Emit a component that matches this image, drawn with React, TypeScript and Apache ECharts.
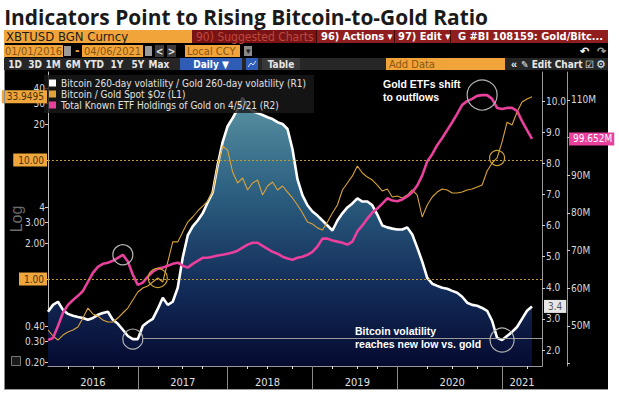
import React, { useEffect, useRef } from "react";
import * as echarts from "echarts";

const W = 619;
const H = 398;

// ---- x axis: sample positions (one category per sample) ----
const yearStarts: [number, number][] = [
  [2016, 0], [2017, 18], [2018, 36], [2019, 53], [2020, 70], [2021, 91],
];
const samplesPerYear2021 = 23;
const categoryCount = 100;
const yearLabels: Record<number, string> = { 9: "2016", 27: "2017", 44: "2018", 62: "2019", 81: "2020", 95: "2021" };
const yearSeparators = [18, 36, 53, 70, 91];
const quarterTicks = [4, 9, 14, 22, 27, 31, 40, 44, 49, 57, 62, 66, 76, 81, 86, 96];

// ---- tick labels ----
const leftTicks = [0.2, 0.3, 0.4, 1, 2, 3, 4, 10, 20, 30, 40];
const leftLabelValues = [0.2, 0.3, 0.4, 2, 3, 4, 20, 30, 40];
const leftLabelText = ["0.20", "0.30", "0.40", "2.00", "3.00", "4", "20", "30", "40"];
const r1Ticks = [2, 3, 4, 5, 6, 7, 8, 9, 10];
const r2Ticks = [40, 50, 60, 70, 80, 90, 100, 110];
const r2Labels = [50, 60, 70, 80, 90, 110];
const refLevels = [10, 1];
const volLowLine = 2.39;

// ---- series ----
const volRatio = [
  3.23, 3.45, 3.55, 3.29, 3.16, 3.10, 3.06, 3.03, 2.97, 3.03, 3.13, 3.19, 3.23, 2.97, 2.84, 2.65, 2.45, 2.35,
  2.35, 2.77, 2.90, 3.00, 3.32, 3.68, 3.45, 3.55, 4.00, 4.97, 5.68, 5.97, 6.16, 6.39, 6.74, 7.06, 7.94, 8.68,
  9.19, 9.45, 9.74, 10.10, 9.81, 9.68, 9.61, 9.55, 9.48, 9.42, 9.32, 9.26, 9.10, 8.45, 7.48, 6.97, 6.65, 6.45,
  6.32, 6.16, 6.00, 5.84, 6.16, 6.39, 6.58, 6.71, 6.87, 6.77, 6.77, 6.65, 6.35, 6.00, 5.94, 5.90, 5.87, 5.87,
  5.94, 5.71, 5.29, 4.84, 4.32, 4.13, 4.06, 4.00, 3.97, 3.90, 3.84, 3.71, 3.52, 3.45, 3.42, 3.35, 3.26, 2.94,
  2.39, 2.32, 2.45, 2.58, 2.74, 3.00, 3.26, 3.40,
];
const btcGold = [
  0.373, 0.332, 0.307, 0.338, 0.359, 0.373, 0.395, 0.470, 0.570, 0.508, 0.489, 0.452, 0.435, 0.435, 0.470, 0.518, 0.570, 0.667,
  0.778, 0.840, 0.873, 0.944, 1.02, 0.944, 1.39, 2.05, 2.05, 2.48, 3.01, 3.32, 3.73, 4.10, 4.52, 5.38, 9.08, 13.1,
  12.1, 7.93, 6.41, 7.06, 5.60, 6.41, 6.79, 5.08, 6.05, 6.53, 5.60, 6.05, 5.38, 4.80, 4.19, 3.59, 3.01, 2.90,
  2.69, 2.58, 3.01, 3.59, 4.19, 5.60, 6.41, 7.35, 8.91, 7.78, 7.19, 6.79, 6.16, 5.48, 5.70, 4.89, 4.98, 4.80,
  5.08, 5.60, 5.08, 3.32, 4.19, 4.89, 5.38, 5.70, 5.60, 5.28, 5.28, 5.38, 5.60, 5.70, 5.93, 6.16, 8.09, 9.44,
  10.4, 14.2, 20.8, 19.7, 25.3, 30.7, 32.6, 33.9495,
];
const etfHoldings = [
  46.3, 46.8, 50.0, 53.5, 55.6, 56.9, 58.0, 59.3, 61.7, 64.1, 65.7, 66.5, 66.8, 67.3, 68.1, 68.9, 67.1, 63.6,
  60.9, 61.5, 63.1, 64.4, 65.2, 65.5, 66.0, 66.5, 66.8, 66.0, 65.5, 66.5, 67.3, 68.1, 68.1, 68.4, 68.7, 68.9,
  69.2, 69.5, 70.0, 70.8, 71.6, 72.1, 72.1, 71.3, 70.5, 69.7, 69.2, 68.4, 67.9, 67.6, 68.1, 68.4, 68.9, 69.7,
  71.1, 73.2, 73.2, 72.7, 72.4, 72.1, 71.6, 72.4, 75.1, 76.7, 78.5, 80.1, 81.2, 82.5, 83.9, 83.3, 83.1, 83.6,
  84.4, 85.5, 87.3, 90.0, 93.7, 95.6, 98.0, 99.9, 102.0, 104.1, 106.3, 108.7, 109.7, 110.3, 111.1, 111.3, 111.3, 110.3,
  107.9, 107.6, 107.9, 107.9, 107.1, 104.4, 102.0, 99.652,
];

const volName = "Bitcoin 260-day volatility / Gold 260-day volatility (R1)";
const ratioName = "Bitcoin / Gold Spot $Oz (L1)";
const etfName = "Total Known ETF Holdings of Gold on 4/5/21 (R2)";

const NARROW = "'Liberation Sans Narrow','Arial Narrow','DejaVu Sans Condensed','Roboto Condensed',sans-serif";
const SANS = "'Liberation Sans',Arial,sans-serif";
const AMBER = "#f0a43a";
const AMBER_TXT = "#8a5612";
const HIDDEN_LINE = { color: "rgba(0,0,0,0)", width: 0 };

function buildCategories(): string[] {
  const out: string[] = [];
  for (let k = 0; k < yearStarts.length; k++) {
    const [yr, s] = yearStarts[k];
    const last = k + 1 < yearStarts.length;
    const next = last ? yearStarts[k + 1][1] : categoryCount;
    const n = last ? next - s : samplesPerYear2021;
    for (let i = s; i < next; i++) {
      const day = Math.round(((i - s) / n) * 365);
      const d = new Date(Date.UTC(yr, 0, 1 + day));
      out.push(d.toISOString().slice(0, 10));
    }
  }
  return out;
}

function measure(text: string, font: string): number {
  const c = document.createElement("canvas").getContext("2d");
  if (!c) return 0;
  c.font = font;
  return c.measureText(text).width;
}

function txt(x: number, y: number, text: string, fill: string, font: string, align = "left", extra: any = {}) {
  return { type: "text", x, y, z: 20, silent: true, style: { text, fill, font, align, verticalAlign: "middle" }, ...extra };
}
function box(x: number, y: number, w: number, h: number, fill: string, extra: any = {}) {
  return { type: "rect", z: 10, silent: true, shape: { x, y, width: w, height: h }, style: { fill }, ...extra };
}

function buildGraphics() {
  const titleText = "Indicators Point to Rising Bitcoin-to-Gold Ratio";
  const titleFont = "bold 22px 'Open Sans'";
  const tw = measure(titleText, titleFont) || 484;
  const titleScale = 484 / tw;
  const g: any[] = [
    { type: "rect", z: -10, silent: true, shape: { x: 4, y: 43, width: 604, height: 347 }, style: { fill: "#000" } },
    { type: "line", z: 10, silent: true, shape: { x1: 4.5, y1: 43, x2: 4.5, y2: 390 }, style: { stroke: "#8a8a8a", lineWidth: 1 } },
    { type: "line", z: 10, silent: true, shape: { x1: 4, y1: 389.5, x2: 608, y2: 389.5 }, style: { stroke: "#9a9a9a", lineWidth: 1 } },
    txt(4, 16, titleText, "#1a1a1a", titleFont, "left", { scaleX: titleScale, originX: 4 }),
    // row 1
    box(4, 30, 188, 13, AMBER),
    txt(6, 36.5, "XBTUSD BGN Curncy", "#1c1c1c", `13px ${NARROW}`),
    box(192, 30, 416, 13, "#901e1e"),
    box(192, 30, 124, 13, "#7a1414"),
    txt(196, 36.5, "90) Suggested Charts", "#c0483f", `12px ${NARROW}`),
    { type: "line", z: 11, silent: true, shape: { x1: 316.5, y1: 30, x2: 316.5, y2: 43 }, style: { stroke: "#3c0808" } },
    { type: "line", z: 11, silent: true, shape: { x1: 394.5, y1: 30, x2: 394.5, y2: 43 }, style: { stroke: "#3c0808" } },
    { type: "line", z: 11, silent: true, shape: { x1: 450.5, y1: 30, x2: 450.5, y2: 43 }, style: { stroke: "#3c0808" } },
    txt(321, 36.5, "96) Actions \u25BE", "#ffffff", `bold 11px ${NARROW}`),
    txt(398, 36.5, "97) Edit \u25BE", "#ffffff", `bold 11px ${NARROW}`),
    txt(458, 36.5, "G #BI 108159: Gold/Bitc...", "#ffffff", `bold 11px ${NARROW}`),
    // row 2
    box(4, 45, 59, 12, AMBER),
    txt(5, 51, "01/01/2016", AMBER_TXT, `11px ${NARROW}`),
    box(64, 46, 7, 10, "#9a9a9a"),
    txt(75, 51, "-", AMBER, `bold 12px ${NARROW}`),
    box(82, 45, 61, 12, AMBER),
    txt(84, 51, "04/06/2021", AMBER_TXT, `11px ${NARROW}`),
    box(145, 46, 7, 10, "#9a9a9a"),
    box(155, 45, 9, 12, "#3a3a3a"),
    txt(159.5, 51, "<", "#e0e0e0", `bold 10px ${NARROW}`, "center"),
    box(167, 45, 9, 12, "#3a3a3a"),
    txt(171.5, 51, ">", "#e0e0e0", `bold 10px ${NARROW}`, "center"),
    box(185, 45, 55, 12, AMBER),
    txt(187, 51, "Local CCY", AMBER_TXT, `11px ${NARROW}`),
    box(244, 46, 8, 10, "#8a8a8a"),
    txt(248, 51, "\u25BE", "#222", `9px ${SANS}`, "center"),
    txt(584, 51, "\u21B6", "#f0f0f0", `bold 11px ${SANS}`, "center"),
    txt(601, 51, "\u21B7", "#9a9a9a", `bold 11px ${SANS}`, "center"),
    // row 3
    box(4, 58, 604, 12, "#262626"),
    ...[["1D", 15], ["3D", 35], ["1M", 53], ["6M", 73], ["YTD", 94], ["1Y", 117], ["5Y", 138], ["Max", 159]].map(([t, x]) =>
      txt(x as number, 64, t as string, "#e6e6e6", `bold 10px ${NARROW}`, "center")),
    box(180, 58, 62, 12, "#2f5cb6"),
    txt(211, 64, "Daily \u25BC", "#ffffff", `bold 10px ${NARROW}`, "center"),
    box(246, 58, 12, 12, "#2f5cb6"),
    { type: "polyline", z: 21, silent: true, shape: { points: [[248, 67], [251, 63], [253, 65], [256, 61]] }, style: { stroke: "#dfe8ff", fill: null, lineWidth: 1 } },
    box(262, 58, 38, 12, "#383838"),
    txt(281, 64, "Table", "#e6e6e6", `bold 10px ${NARROW}`, "center"),
    box(386, 58, 119, 12, AMBER),
    txt(389, 64, "Add Data", AMBER_TXT, `11px ${NARROW}`),
    txt(514, 64, "\u00AB", "#e6e6e6", `bold 11px ${SANS}`, "center"),
    txt(521, 64, "\u270E Edit Chart", "#e6e6e6", `bold 10px ${NARROW}`),
    txt(589, 64, "\u2611", "#e6e6e6", `10px ${SANS}`, "center"),
    txt(601, 64, "\u2699", "#e6e6e6", `11px ${SANS}`, "center"),
    // small icon bottom-left
    { type: "rect", z: 10, silent: true, shape: { x: 11.5, y: 356.5, width: 9, height: 9 }, style: { fill: "#1a1a1a", stroke: "#777", lineWidth: 1 } },
    // annotations
    { type: "text", x: 383, y: 77, z: 30, silent: true, style: { text: "Gold ETFs shift\nto outflows", fill: "#ffffff", font: `bold 10.5px ${SANS}`, lineHeight: 13 } },
    { type: "text", x: 355, y: 324, z: 30, silent: true, style: { text: "Bitcoin volatility\nreaches new low vs. gold", fill: "#ffffff", font: `bold 10.5px ${SANS}`, lineHeight: 13 } },
  ];
  return g;
}

function buildOption(): any {
  const categories = buildCategories();
  const sepSet = new Set(yearSeparators);
  const qSet = new Set(quarterTicks);
  const last = volRatio.length - 1;
  const axisLabelStyle = { color: "#d8d8d8", fontSize: 10, fontFamily: NARROW };
  const ring = (color: string) => ({ color: "rgba(0,0,0,0)", borderColor: color, borderWidth: 1.2 });

  return {
    animation: false,
    backgroundColor: "transparent",
    textStyle: { fontFamily: NARROW },
    grid: { left: 43, top: 72, width: 499, height: 294, show: false },
    legend: {
      left: 44, top: 75, orient: "vertical", icon: "rect", itemWidth: 7, itemHeight: 7, itemGap: 1,
      padding: [3, 8, 3, 5], backgroundColor: "rgba(24,24,24,0.82)", selectedMode: false,
      textStyle: { color: "#e2e2e2", fontSize: 10, fontFamily: NARROW, lineHeight: 10 },
      data: [volName, ratioName, etfName],
    },
    xAxis: [
      {
        type: "category", data: categories, boundaryGap: false,
        axisLine: { onZero: false, lineStyle: { color: "#9a9a9a", width: 1 } },
        axisTick: { show: true, length: 23, interval: (i: number) => sepSet.has(i), lineStyle: { color: "#8a8a8a" } },
        axisLabel: { interval: (i: number) => i in yearLabels, formatter: (_v: string, i: number) => yearLabels[i] || "", color: "#e0e0e0", fontSize: 11, margin: 11, fontFamily: NARROW },
        splitLine: { show: false },
      },
      {
        type: "category", data: categories, boundaryGap: false, position: "bottom",
        axisLine: { show: false, onZero: false },
        axisTick: { show: true, length: 3, interval: (i: number) => qSet.has(i), lineStyle: { color: "#dddddd" } },
        axisLabel: { show: false }, splitLine: { show: false },
      },
    ],
    yAxis: [
      {
        type: "log", logBase: 10, min: 0.1858, max: 54.9, position: "left",
        axisLine: { show: true, lineStyle: { color: "#bdbdbd" } },
        axisTick: { show: true, customValues: leftTicks, length: 3, lineStyle: { color: "#cfcfcf" } },
        axisLabel: { show: false },
        splitLine: { show: false },
        name: "Log", nameLocation: "middle", nameRotate: 90, nameGap: 24,
        nameTextStyle: { color: "#6c6c6c", fontSize: 16, fontFamily: SANS },
      },
      {
        type: "value", min: 1.486, max: 10.932, position: "right",
        axisLine: { show: true, lineStyle: { color: "#9a9a9a" } },
        axisTick: { show: true, customValues: r1Ticks, length: 3, lineStyle: { color: "#cfcfcf" } },
        axisLabel: { customValues: r1Ticks, margin: 4, ...axisLabelStyle, formatter: (v: number) => v.toFixed(1) },
        splitLine: { show: false },
      },
      {
        type: "value", min: 39.38, max: 117.43, position: "right", offset: 25,
        axisLine: { show: true, lineStyle: { color: "#9a9a9a" } },
        axisTick: { show: true, customValues: r2Ticks, length: 3, lineStyle: { color: "#cfcfcf" } },
        axisLabel: { customValues: r2Labels, margin: 4, ...axisLabelStyle, formatter: (v: number) => `${Math.round(v)}M` },
        splitLine: { show: false },
      },
    ],
    series: [
      {
        name: volName, type: "line", xAxisIndex: 0, yAxisIndex: 1, data: volRatio, symbol: "none", z: 2,
        color: "#ffffff", lineStyle: { color: "#ffffff", width: 2.6 },
        areaStyle: {
          origin: "start", opacity: 1,
          color: new echarts.graphic.LinearGradient(0, 0, 0, 1, [
            { offset: 0, color: "#5a93a3" },
            { offset: 0.35, color: "#2c5f80" },
            { offset: 0.7, color: "#132d5a" },
            { offset: 1, color: "#060a30" },
          ]),
        },
        markLine: {
          silent: true, symbol: ["none", "none"], animation: false,
          data: [
            [
              { coord: [19, volLowLine], lineStyle: { color: "#9a9a9a", width: 1, type: "solid" }, label: { show: false } },
              { coord: [categoryCount - 1, volLowLine] },
            ],
            {
              yAxis: volRatio[last], lineStyle: HIDDEN_LINE,
              label: { show: true, position: "end", distance: 2, formatter: volRatio[last].toFixed(1), backgroundColor: "#e6e6e6", color: "#555", padding: [2, 4, 1, 4], fontSize: 10, fontFamily: NARROW },
            },
          ],
        },
        markPoint: {
          silent: true, symbol: "circle", itemStyle: ring("#b4b4b4"), label: { show: false },
          data: [
            { coord: [17, volRatio[17]], symbolSize: 20 },
            { coord: [91, volRatio[91]], symbolSize: 24 },
          ],
        },
      },
      {
        name: ratioName, type: "line", xAxisIndex: 0, yAxisIndex: 0, data: btcGold, symbol: "none", z: 3,
        color: "#dca43b", lineStyle: { color: "#d9a23a", width: 1.1 },
        markLine: {
          silent: true, symbol: ["none", "none"], animation: false,
          lineStyle: { color: "#c39a2c", width: 1, type: [2, 2] },
          label: { show: true, position: "start", distance: 1, backgroundColor: "#eea63d", color: "#4d3208", padding: [2, 3, 1, 5], fontSize: 10, fontFamily: NARROW },
          data: [
            // left (log) axis tick labels, placed through the log scale
            ...leftLabelValues.map((v, k) => ({
              yAxis: v, lineStyle: HIDDEN_LINE,
              label: { formatter: leftLabelText[k], backgroundColor: "rgba(0,0,0,0)", color: "#d8d8d8", padding: 0, distance: 3 },
            })),
            ...refLevels.map((v) => ({ yAxis: v, label: { formatter: v.toFixed(2) } })),
            { yAxis: btcGold[last], lineStyle: HIDDEN_LINE, label: { formatter: String(btcGold[last]) } },
          ],
        },
        markPoint: {
          silent: true, symbol: "circle", itemStyle: ring("#c9a032"), label: { show: false },
          data: [
            { coord: [22, btcGold[22]], symbolSize: 19 },
            { coord: [90, btcGold[90]], symbolSize: 15 },
          ],
        },
      },
      {
        name: etfName, type: "line", xAxisIndex: 0, yAxisIndex: 2, data: etfHoldings, symbol: "none", z: 4,
        color: "#e8409c", lineStyle: { color: "#e8409c", width: 2.6 },
        markLine: {
          silent: true, symbol: ["none", "none"], animation: false,
          data: [
            {
              yAxis: etfHoldings[last], lineStyle: HIDDEN_LINE,
              label: { show: true, position: "end", distance: 27, formatter: `${etfHoldings[last]}M`, backgroundColor: "#e8409c", color: "#ffffff", padding: [2, 2, 1, 4], fontSize: 10, fontFamily: NARROW },
            },
          ],
        },
        markPoint: {
          silent: true, symbol: "circle", itemStyle: ring("#b4b4b4"), label: { show: false },
          data: [
            { coord: [15, etfHoldings[15]], symbolSize: 20 },
            { coord: [87, etfHoldings[87]], symbolSize: 30 },
          ],
        },
      },
    ],
    graphic: { elements: buildGraphics() },
  };
}

export default function App() {
  const ref = useRef<HTMLDivElement>(null);
  useEffect(() => {
    if (!ref.current) return;
    const chart = echarts.init(ref.current, null, { renderer: "svg" });
    chart.setOption(buildOption());
    return () => chart.dispose();
  }, []);
  return (
    <div
      ref={ref}
      style={{ position: "absolute", left: 0, top: 0, width: W, height: H, background: "#ffffff" }}
    />
  );
}
